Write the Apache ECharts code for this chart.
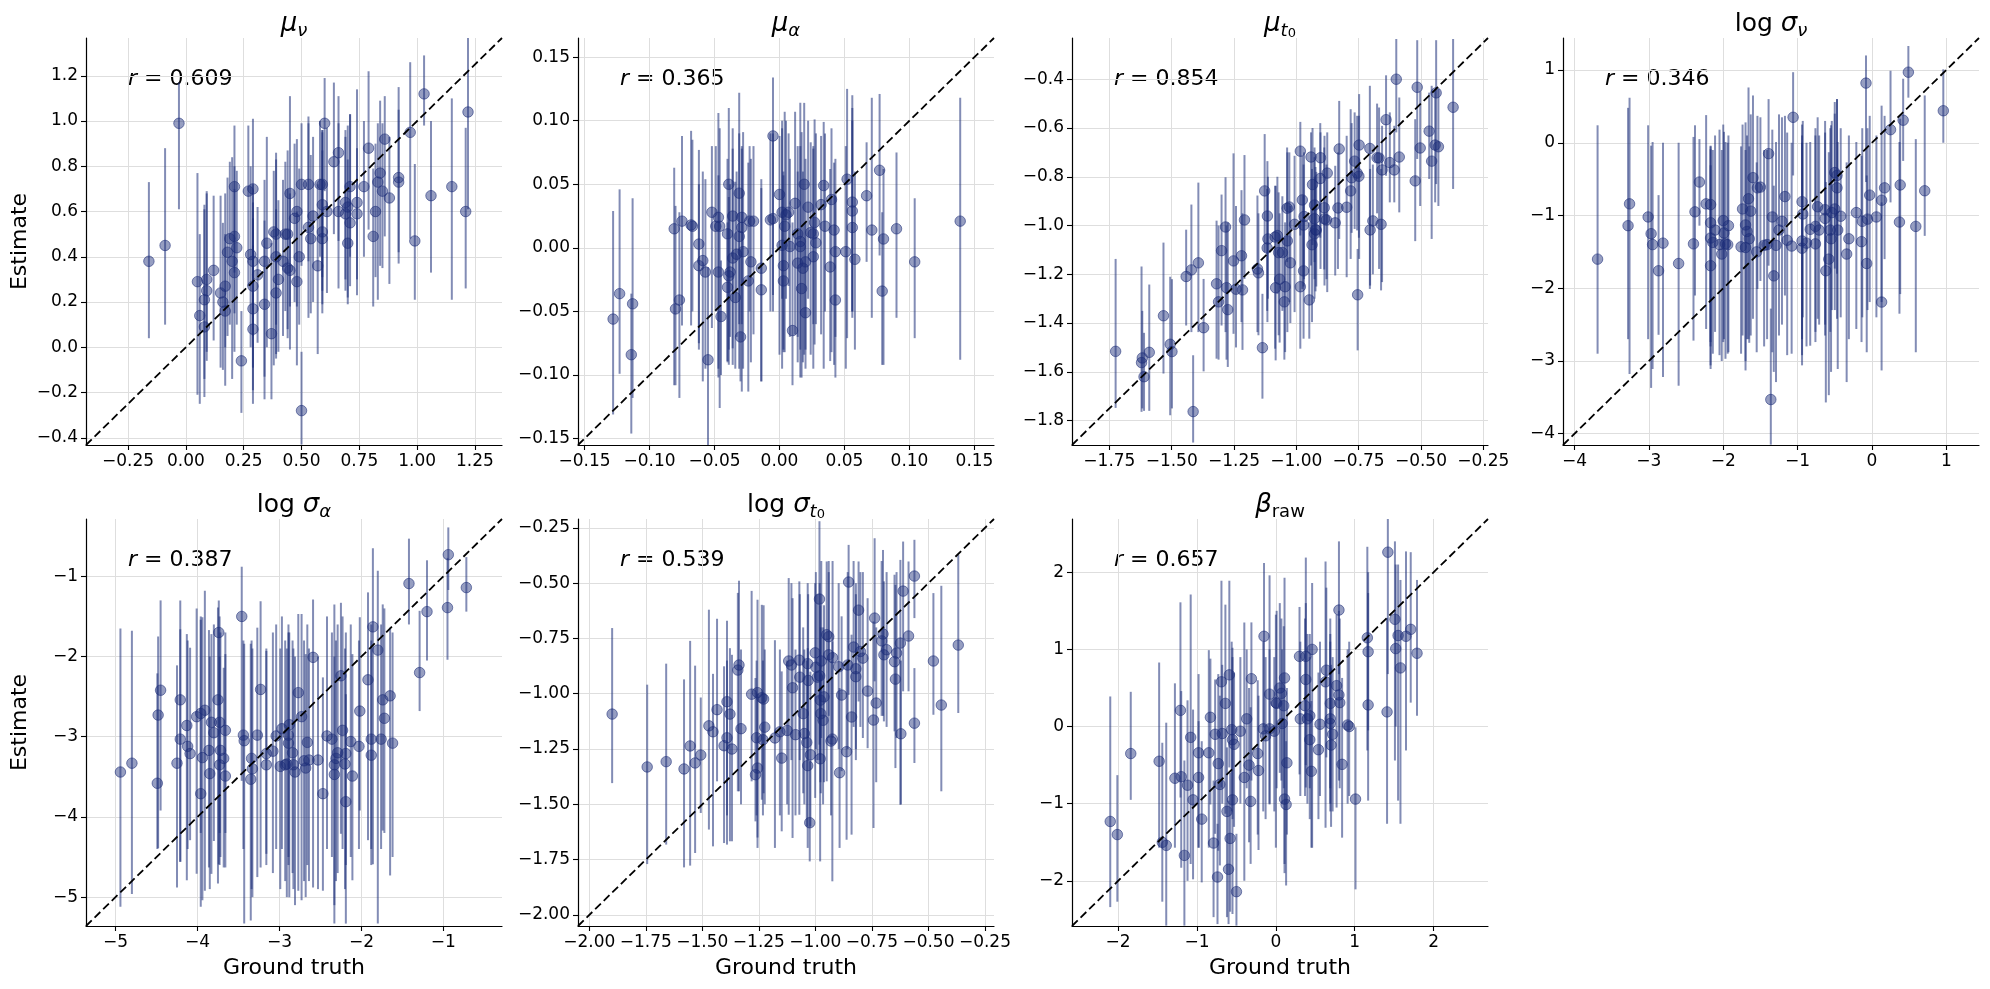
<!DOCTYPE html>
<html>
<head>
<meta charset="utf-8">
<title>Parameter recovery</title>
<script src="https://cdn.jsdelivr.net/npm/echarts@6/dist/echarts.min.js"></script>
<style>
html, body { margin: 0; padding: 0; background: #fff; }
#main { width: 1990px; height: 989px; }
</style>
</head>
<body>
<div id="main"></div>
<script>
// each point: [ground truth, estimate, lower, upper]
var MU_NU = [
  [-0.16,0.38,0.04,0.73],[-0.09,0.45,0.10,0.88],[-0.03,0.99,0.61,1.17],[0.05,0.29,-0.21,0.77],
  [0.06,0.14,-0.25,0.50],[0.08,0.09,-0.22,0.63],[0.08,0.21,-0.14,0.61],[0.09,0.30,-0.06,0.69],
  [0.09,0.25,-0.02,0.68],[0.12,0.34,0.03,0.67],[0.15,0.24,-0.09,0.67],[0.17,0.27,0.00,0.68],
  [0.16,0.20,-0.10,0.55],[0.17,0.16,-0.17,0.50],[0.18,0.42,0.05,0.75],[0.19,0.48,0.10,0.82],
  [0.20,0.38,-0.14,0.84],[0.21,0.33,-0.02,0.70],[0.21,0.71,0.33,0.98],[0.22,0.44,0.10,0.78],
  [0.21,0.49,0.15,0.80],[0.24,-0.06,-0.29,0.16],[0.27,0.69,0.27,0.98],[0.29,0.70,0.34,1.01],
  [0.28,0.41,0.00,0.80],[0.29,0.38,0.05,0.72],[0.29,0.27,-0.19,0.64],[0.29,0.17,-0.09,0.57],
  [0.29,0.08,-0.25,0.45],[0.31,0.32,0.02,0.62],[0.34,0.38,-0.13,0.74],[0.34,0.19,-0.23,0.56],
  [0.35,0.46,0.00,0.93],[0.37,0.06,-0.23,0.46],[0.38,0.51,-0.08,0.78],[0.39,0.50,0.10,0.83],
  [0.39,0.40,-0.03,0.86],[0.39,0.24,-0.05,0.61],[0.40,0.30,-0.02,0.65],[0.42,0.38,0.05,0.74],
  [0.43,0.50,0.16,0.82],[0.44,0.50,0.08,0.87],[0.45,0.68,0.18,1.11],[0.44,0.35,0.04,0.70],
  [0.45,0.34,-0.01,0.68],[0.48,0.60,0.18,0.92],[0.47,0.57,0.20,0.90],[0.48,0.29,-0.08,0.60],
  [0.49,0.40,0.10,0.79],[0.50,-0.28,-0.43,-0.02],[0.50,0.72,0.36,0.99],[0.53,0.72,0.38,1.02],
  [0.53,0.53,0.13,0.99],[0.55,0.58,0.20,0.93],[0.54,0.48,0.15,0.85],[0.57,0.36,-0.03,0.72],
  [0.58,0.72,0.40,1.00],[0.59,0.72,0.31,0.96],[0.59,0.63,0.25,0.95],[0.59,0.51,0.15,0.87],
  [0.59,0.48,0.19,0.96],[0.60,0.99,0.69,1.19],[0.61,0.60,0.24,0.97],[0.64,0.82,0.50,1.17],
  [0.66,0.86,0.47,1.11],[0.66,0.60,0.26,0.99],[0.69,0.64,0.30,0.96],[0.69,0.59,0.25,0.93],
  [0.70,0.62,0.22,0.98],[0.71,0.55,0.27,1.03],[0.70,0.46,0.19,0.83],[0.71,0.71,0.40,1.03],
  [0.74,0.64,0.23,1.14],[0.74,0.59,0.30,0.88],[0.77,0.71,0.40,1.00],[0.79,0.88,0.52,1.22],
  [0.81,0.49,0.18,0.79],[0.82,0.60,0.31,0.90],[0.83,0.73,0.21,0.99],[0.84,0.77,0.36,1.09],
  [0.85,0.69,0.35,0.99],[0.86,0.92,0.49,1.11],[0.88,0.66,0.28,0.93],[0.92,0.73,0.42,1.15],
  [0.92,0.75,0.37,1.05],[0.97,0.95,0.48,1.26],[0.99,0.47,0.21,0.81],[1.03,1.12,0.98,1.29],
  [1.06,0.67,0.33,1.00],[1.15,0.71,0.21,1.10],[1.21,0.60,0.26,0.97],[1.22,1.04,0.61,1.37]
];
var MU_ALPHA = [
  [-0.128,-0.056,-0.131,0.029],[-0.123,-0.036,-0.099,0.046],[-0.114,-0.084,-0.146,-0.036],[-0.113,-0.044,-0.118,0.039],
  [-0.081,0.015,-0.108,0.063],[-0.080,-0.048,-0.108,0.033],[-0.077,-0.041,-0.118,0.028],[-0.075,0.021,-0.061,0.088],
  [-0.068,0.018,-0.061,0.092],[-0.067,0.017,-0.050,0.085],[-0.062,0.003,-0.075,0.077],[-0.059,-0.010,-0.105,0.060],
  [-0.062,-0.014,-0.080,0.050],[-0.057,-0.019,-0.095,0.054],[-0.055,-0.088,-0.155,-0.015],[-0.052,0.028,-0.063,0.080],
  [-0.047,0.024,-0.102,0.106],[-0.049,0.017,-0.050,0.080],[-0.046,0.017,-0.126,0.094],[-0.047,-0.019,-0.095,0.057],
  [-0.045,-0.054,-0.100,-0.010],[-0.040,0.011,-0.089,0.070],[-0.039,0.050,-0.092,0.110],[-0.036,0.025,-0.079,0.094],
  [-0.036,-0.008,-0.092,0.078],[-0.039,-0.022,-0.080,0.040],[-0.040,-0.031,-0.090,0.020],[-0.038,-0.019,-0.070,0.050],
  [-0.034,-0.039,-0.095,0.052],[-0.031,0.043,-0.095,0.122],[-0.029,0.024,-0.113,0.078],[-0.029,0.016,-0.060,0.080],
  [-0.031,0.009,-0.060,0.090],[-0.033,-0.005,-0.070,0.060],[-0.028,-0.003,-0.095,0.091],[-0.030,-0.070,-0.105,-0.001],
  [-0.024,-0.026,-0.113,0.067],[-0.022,-0.011,-0.090,0.070],[-0.023,0.021,-0.050,0.080],[-0.020,0.021,-0.068,0.080],
  [-0.014,-0.016,-0.105,0.054],[-0.014,-0.033,-0.105,0.047],[-0.005,0.088,-0.037,0.134],[-0.007,0.022,-0.050,0.090],
  [-0.005,0.023,-0.050,0.090],[0.000,0.042,-0.084,0.088],[0.002,0.028,-0.040,0.100],[0.004,0.017,-0.082,0.107],
  [0.005,0.026,-0.040,0.100],[0.007,0.028,-0.030,0.090],[0.002,0.002,-0.095,0.094],[0.008,0.001,-0.070,0.070],
  [0.003,-0.014,-0.080,0.060],[0.003,-0.026,-0.082,0.057],[0.010,-0.065,-0.108,0.020],[0.012,0.035,-0.068,0.107],
  [0.014,0.011,-0.070,0.080],[0.016,0.005,-0.102,0.114],[0.016,0.001,-0.080,0.080],[0.014,-0.012,-0.090,0.060],
  [0.019,0.050,-0.084,0.114],[0.022,0.032,-0.040,0.100],[0.020,-0.011,-0.080,0.070],[0.018,-0.016,-0.090,0.060],
  [0.017,-0.032,-0.102,0.091],[0.020,-0.051,-0.095,0.020],[0.024,0.012,-0.084,0.083],[0.026,0.011,-0.060,0.080],
  [0.027,0.020,-0.076,0.101],[0.028,0.004,-0.060,0.090],[0.026,-0.007,-0.095,0.078],[0.032,0.034,-0.068,0.088],
  [0.034,0.049,-0.095,0.099],[0.035,0.017,-0.050,0.090],[0.040,0.038,-0.082,0.094],[0.042,0.014,-0.092,0.067],
  [0.043,-0.003,-0.070,0.070],[0.039,-0.015,-0.089,0.062],[0.043,-0.041,-0.102,0.041],[0.051,-0.003,-0.095,0.080],
  [0.052,0.054,-0.071,0.125],[0.056,0.036,-0.050,0.110],[0.056,0.029,-0.050,0.100],[0.056,0.016,-0.055,0.120],
  [0.058,-0.009,-0.080,0.060],[0.067,0.041,-0.011,0.083],[0.071,0.014,-0.055,0.118],[0.077,0.061,-0.006,0.121],
  [0.080,0.007,-0.092,0.062],[0.079,-0.034,-0.092,0.028],[0.090,0.015,-0.055,0.075],[0.104,-0.011,-0.071,0.039],
  [0.139,0.021,-0.088,0.118]
];
var MU_T0 = [
  [-1.725,-1.516,-1.748,-1.137],[-1.621,-1.562,-1.764,-1.168],[-1.618,-1.543,-1.75,-1.35],[-1.611,-1.620,-1.76,-1.44],
  [-1.590,-1.520,-1.76,-1.242],[-1.533,-1.370,-1.607,-1.07],[-1.506,-1.487,-1.778,-1.21],[-1.499,-1.517,-1.75,-1.22],
  [-1.442,-1.209,-1.41,-1.017],[-1.421,-1.182,-1.437,-0.914],[-1.414,-1.763,-1.89,-1.532],[-1.393,-1.153,-1.437,-0.824],
  [-1.372,-1.419,-1.598,-1.219],[-1.320,-1.239,-1.546,-0.98],[-1.312,-1.313,-1.55,-1.0],[-1.300,-1.103,-1.41,-0.873],
  [-1.284,-1.006,-1.437,-0.802],[-1.280,-1.255,-1.55,-1.0],[-1.275,-1.345,-1.58,-0.987],[-1.252,-1.145,-1.444,-0.704],
  [-1.242,-1.261,-1.5,-0.92],[-1.220,-1.124,-1.396,-0.855],[-1.216,-1.264,-1.51,-0.95],[-1.208,-0.977,-1.219,-0.711],
  [-1.156,-1.178,-1.437,-0.877],[-1.152,-1.194,-1.45,-0.95],[-1.136,-1.501,-1.71,-1.28],[-1.127,-0.858,-1.109,-0.625],
  [-1.116,-0.961,-1.396,-0.736],[-1.114,-1.055,-1.30,-0.80],[-1.117,-1.092,-1.35,-0.85],[-1.083,-1.255,-1.553,-0.837],
  [-1.085,-1.047,-1.505,-0.837],[-1.076,-1.041,-1.28,-0.80],[-1.067,-1.220,-1.48,-0.95],[-1.071,-1.111,-1.45,-0.864],
  [-1.056,-1.111,-1.35,-0.88],[-1.045,-1.251,-1.519,-0.987],[-1.048,-1.313,-1.55,-1.05],[-1.036,-1.063,-1.437,-0.70],
  [-1.037,-0.929,-1.15,-0.68],[-1.028,-0.924,-1.314,-0.70],[-1.024,-1.153,-1.40,-0.92],[-1.007,-0.995,-1.355,-0.714],
  [-0.984,-1.251,-1.505,-0.987],[-0.984,-0.695,-1.041,-0.575],[-0.976,-0.895,-1.26,-0.714],[-0.971,-0.998,-1.25,-0.75],
  [-0.969,-0.963,-1.22,-0.70],[-0.971,-1.186,-1.464,-0.877],[-0.948,-1.305,-1.464,-0.987],[-0.941,-0.719,-1.164,-0.618],
  [-0.935,-0.832,-1.08,-0.60],[-0.937,-1.079,-1.396,-0.768],[-0.927,-0.916,-1.15,-0.68],[-0.927,-0.972,-1.22,-0.72],
  [-0.923,-1.017,-1.27,-0.76],[-0.927,-1.034,-1.30,-0.80],[-0.920,-1.019,-1.25,-0.78],[-0.903,-0.722,-1.178,-0.618],
  [-0.904,-0.807,-1.05,-0.58],[-0.888,-0.927,-1.18,-0.68],[-0.887,-0.973,-1.246,-0.632],[-0.876,-0.785,-1.273,-0.618],
  [-0.879,-0.977,-1.22,-0.75],[-0.844,-0.989,-1.205,-0.755],[-0.833,-0.928,-1.178,-0.70],[-0.828,-0.686,-1.055,-0.489],
  [-0.798,-0.925,-1.212,-0.632],[-0.782,-0.858,-1.137,-0.523],[-0.778,-0.804,-1.03,-0.58],[-0.766,-0.736,-1.014,-0.536],
  [-0.754,-1.284,-1.512,-1.096],[-0.756,-0.785,-1.02,-0.55],[-0.748,-0.670,-1.137,-0.461],[-0.749,-0.798,-1.05,-0.55],
  [-0.705,-0.684,-1.26,-0.427],[-0.704,-1.018,-1.246,-0.768],[-0.693,-0.981,-1.20,-0.75],[-0.676,-0.722,-0.95,-0.50],
  [-0.668,-0.723,-1.178,-0.516],[-0.656,-0.772,-1.232,-0.591],[-0.660,-0.995,-1.266,-0.768],[-0.640,-0.566,-0.796,-0.384],
  [-0.625,-0.742,-0.905,-0.536],[-0.607,-0.772,-0.905,-0.591],[-0.599,-0.400,-0.618,-0.235],[-0.587,-0.719,-0.946,-0.475],
  [-0.523,-0.817,-1.064,-0.564],[-0.515,-0.433,-0.727,-0.24],[-0.503,-0.682,-0.92,-0.45],[-0.467,-0.613,-0.809,-0.455],
  [-0.457,-0.736,-1.055,-0.427],[-0.439,-0.456,-0.83,-0.24],[-0.443,-0.670,-0.905,-0.441],[-0.430,-0.677,-0.92,-0.44],
  [-0.371,-0.515,-0.85,-0.235]
];
var LOG_SIGMA_NU = [
  [-3.69,-1.60,-2.90,0.24],[-3.26,-0.84,-3.18,0.62],[-3.28,-1.14,-2.70,0.48],[-3.01,-1.02,-2.70,0.24],
  [-2.97,-1.25,-3.37,-0.04],[-2.95,-1.40,-3.11,0.01],[-2.87,-1.76,-2.64,-0.72],[-2.81,-1.38,-3.22,0.00],
  [-2.60,-1.66,-3.34,0.00],[-2.40,-1.39,-2.72,0.08],[-2.38,-0.95,-2.10,0.24],[-2.32,-0.54,-1.14,0.05],
  [-2.23,-0.84,-2.56,0.38],[-2.17,-0.85,-2.74,-0.04],[-2.17,-1.10,-3.11,-0.09],[-2.11,-1.20,-2.60,0.10],
  [-2.17,-1.31,-2.80,-0.05],[-2.14,-1.37,-2.90,-0.10],[-2.17,-1.69,-3.06,-0.31],[-2.05,-1.40,-2.92,0.18],
  [-2.00,-1.07,-2.74,0.25],[-1.99,-1.24,-2.70,0.15],[-2.02,-1.53,-3.00,-0.10],[-1.97,-1.39,-2.97,0.01],
  [-1.93,-1.14,-2.88,0.10],[-1.94,-1.40,-2.90,0.00],[-1.74,-0.91,-2.65,0.25],[-1.76,-1.43,-2.90,-0.05],
  [-1.70,-1.44,-3.00,-0.10],[-1.70,-1.13,-3.13,0.28],[-1.68,-1.22,-2.70,0.10],[-1.66,-0.77,-2.70,0.76],
  [-1.65,-1.32,-2.75,-0.05],[-1.63,-0.94,-2.65,0.39],[-1.60,-0.48,-2.42,0.65],[-1.54,-0.62,-2.01,0.37],
  [-1.50,-0.61,-1.90,0.35],[-1.55,-1.50,-2.88,-0.27],[-1.45,-1.41,-2.80,-0.10],[-1.39,-0.15,-1.69,0.60],
  [-1.36,-3.53,-4.15,-2.28],[-1.34,-1.02,-2.88,0.18],[-1.41,-1.40,-2.70,-0.10],[-1.29,-1.41,-3.29,0.01],
  [-1.32,-1.83,-3.15,-0.59],[-1.25,-1.20,-2.65,0.39],[-1.21,-1.08,-2.50,0.35],[-1.17,-0.74,-2.10,0.37],
  [-1.14,-1.34,-2.92,0.14],[-1.06,0.35,-0.45,0.97],[-1.08,-1.42,-2.90,0.00],[-0.94,-0.81,-2.92,0.25],
  [-0.93,-0.98,-2.40,0.30],[-0.94,-1.35,-2.70,0.00],[-0.94,-1.45,-3.06,0.10],[-0.88,-1.38,-2.80,0.00],
  [-0.83,-1.19,-2.79,0.01],[-0.76,-1.15,-2.60,0.20],[-0.76,-1.39,-2.74,0.10],[-0.73,-0.88,-2.42,0.35],
  [-0.71,-1.20,-2.50,0.10],[-0.63,-0.92,-2.65,0.14],[-0.63,-1.04,-2.50,0.30],[-0.62,-1.76,-3.57,-0.54],
  [-0.58,-1.60,-3.47,-0.13],[-0.56,-1.20,-2.60,0.20],[-0.55,-1.32,-3.15,0.24],[-0.54,-0.96,-2.30,0.30],
  [-0.50,-0.41,-1.73,0.56],[-0.47,-0.45,-1.80,0.60],[-0.47,-0.62,-2.42,0.60],[-0.50,-0.91,-2.30,0.40],
  [-0.46,-1.20,-3.11,0.01],[-0.42,-1.01,-2.40,0.20],[-0.34,-1.53,-3.29,-0.27],[-0.31,-1.32,-2.70,0.10],
  [-0.21,-0.96,-2.56,0.01],[-0.14,-1.36,-2.74,-0.18],[-0.13,-1.08,-2.40,0.20],[-0.07,-1.66,-2.88,-0.45],
  [-0.06,-1.05,-2.30,0.20],[-0.08,0.82,-0.54,1.20],[-0.03,-0.72,-2.19,0.37],[0.06,-1.02,-2.40,0.10],
  [0.13,-0.79,-2.19,0.51],[0.13,-2.19,-3.13,-0.82],[0.17,-0.62,-1.60,0.37],[0.25,0.18,-0.82,0.99],
  [0.37,-1.09,-2.35,0.01],[0.38,-0.58,-2.08,0.33],[0.42,0.31,-0.25,0.88],[0.49,0.97,0.62,1.33],
  [0.59,-1.15,-2.88,0.05],[0.71,-0.66,-1.28,0.65],[0.96,0.44,0.00,1.01]
];
var LOG_SIGMA_ALPHA = [
  [-4.94,-3.44,-5.12,-1.65],[-4.80,-3.33,-4.96,-1.68],[-4.49,-3.58,-4.40,-2.21],[-4.48,-2.73,-4.39,-1.75],
  [-4.45,-2.42,-3.92,-1.30],[-4.25,-3.33,-4.88,-2.11],[-4.21,-2.54,-4.56,-1.30],[-4.21,-3.03,-4.56,-1.66],
  [-4.13,-2.86,-4.79,-1.72],[-4.12,-3.12,-4.40,-1.80],[-4.09,-3.21,-4.29,-1.89],[-4.01,-2.75,-4.71,-1.40],
  [-3.96,-3.71,-5.12,-1.54],[-3.96,-2.71,-4.20,-1.50],[-3.91,-2.67,-4.92,-1.18],[-3.94,-3.26,-5.04,-1.51],
  [-3.86,-3.17,-4.63,-1.67],[-3.85,-3.46,-4.90,-2.00],[-3.83,-2.82,-4.71,-1.72],[-3.80,-2.95,-4.30,-1.60],
  [-3.75,-2.54,-4.83,-1.39],[-3.74,-1.70,-4.59,-1.30],[-3.73,-2.82,-4.20,-1.50],[-3.72,-3.17,-4.50,-1.70],
  [-3.73,-3.35,-4.60,-2.00],[-3.68,-3.27,-4.63,-2.14],[-3.66,-2.92,-4.20,-1.70],[-3.66,-3.49,-4.63,-1.97],
  [-3.46,-1.50,-3.55,-0.88],[-3.44,-2.98,-4.40,-1.80],[-3.43,-3.05,-5.33,-1.84],[-3.34,-3.27,-4.90,-1.80],
  [-3.33,-3.40,-5.00,-1.90],[-3.35,-3.53,-5.29,-1.84],[-3.27,-2.98,-4.75,-1.64],[-3.23,-2.41,-4.63,-1.31],
  [-3.16,-3.21,-4.60,-1.90],[-3.16,-3.35,-4.46,-1.93],[-3.08,-3.18,-4.70,-1.70],[-3.04,-2.99,-4.40,-1.60],
  [-2.99,-3.37,-4.90,-1.90],[-2.97,-2.90,-4.40,-1.50],[-2.93,-3.35,-4.80,-1.80],[-2.91,-3.34,-5.00,-1.90],
  [-2.89,-2.98,-4.50,-1.60],[-2.88,-2.85,-5.00,-1.70],[-2.89,-3.08,-4.60,-1.70],[-2.84,-3.20,-4.70,-1.80],
  [-2.83,-3.35,-4.90,-1.90],[-2.81,-3.44,-5.10,-2.00],[-2.77,-2.45,-4.92,-1.47],[-2.73,-2.75,-5.04,-1.47],
  [-2.70,-3.30,-4.80,-1.80],[-2.68,-3.39,-5.00,-1.97],[-2.66,-3.07,-4.60,-1.60],[-2.64,-3.29,-4.80,-1.90],
  [-2.59,-2.01,-4.88,-1.29],[-2.53,-3.29,-4.90,-2.00],[-2.47,-3.71,-4.92,-2.26],[-2.42,-2.99,-4.40,-1.50],
  [-2.36,-3.03,-4.50,-1.70],[-2.33,-3.35,-5.33,-1.35],[-2.33,-3.47,-5.10,-2.00],[-2.31,-3.27,-4.80,-1.80],
  [-2.29,-3.20,-4.70,-1.60],[-2.25,-2.24,-4.21,-1.33],[-2.23,-2.92,-4.40,-1.50],[-2.20,-3.34,-4.90,-1.90],
  [-2.19,-3.21,-4.60,-1.70],[-2.19,-3.81,-5.33,-2.47],[-2.13,-3.06,-4.50,-1.60],[-2.11,-3.49,-4.79,-1.97],
  [-2.03,-3.12,-4.40,-1.80],[-2.02,-2.68,-3.92,-1.51],[-1.92,-2.29,-4.29,-1.20],[-1.88,-3.03,-4.40,-1.60],
  [-1.88,-3.23,-4.60,-1.80],[-1.86,-1.63,-4.59,-0.65],[-1.80,-1.92,-5.33,-0.93],[-1.76,-3.03,-4.40,-1.60],
  [-1.74,-2.54,-4.17,-1.35],[-1.72,-2.77,-4.20,-1.40],[-1.65,-2.49,-4.73,-1.64],[-1.62,-3.08,-4.50,-1.70],
  [-1.42,-1.09,-1.60,-0.53],[-1.29,-2.20,-2.68,-1.43],[-1.20,-1.44,-2.05,-0.80],[-0.95,-1.39,-2.04,-0.77],
  [-0.94,-0.73,-1.17,-0.39],[-0.72,-1.14,-1.44,-0.76]
];
var LOG_SIGMA_T0 = [
  [-1.899,-1.092,-1.404,-0.703],[-1.744,-1.331,-1.770,-0.959],[-1.660,-1.307,-1.682,-0.864],[-1.581,-1.340,-1.785,-0.935],
  [-1.554,-1.236,-1.777,-0.761],[-1.532,-1.313,-1.720,-0.873],[-1.507,-1.277,-1.539,-1.017],[-1.471,-1.145,-1.614,-0.620],
  [-1.453,-1.172,-1.690,-0.910],[-1.435,-1.072,-1.396,-0.661],[-1.404,-1.235,-1.675,-0.876],[-1.391,-1.036,-1.682,-0.670],
  [-1.391,-1.199,-1.55,-0.85],[-1.378,-1.092,-1.667,-0.794],[-1.369,-1.250,-1.667,-0.824],[-1.343,-0.893,-1.441,-0.544],
  [-1.338,-0.870,-1.441,-0.489],[-1.329,-1.158,-1.50,-0.80],[-1.282,-1.002,-1.396,-0.535],[-1.256,-0.995,-1.697,-0.575],
  [-1.260,-1.199,-1.55,-0.85],[-1.256,-1.336,-1.65,-1.00],[-1.265,-1.366,-1.577,-0.929],[-1.237,-1.018,-1.479,-0.598],
  [-1.229,-1.024,-1.45,-0.60],[-1.224,-1.151,-1.50,-0.80],[-1.232,-1.208,-1.55,-0.85],[-1.179,-1.200,-1.697,-0.758],
  [-1.157,-1.172,-1.55,-0.80],[-1.125,-1.166,-1.50,-0.85],[-1.149,-1.291,-1.622,-0.899],[-1.118,-0.852,-1.547,-0.477],
  [-1.106,-0.870,-1.30,-0.50],[-1.101,-0.973,-1.652,-0.568],[-1.088,-1.185,-1.55,-0.80],[-1.071,-0.848,-1.547,-0.492],
  [-1.069,-0.925,-1.30,-0.55],[-1.054,-1.090,-1.45,-0.70],[-1.049,-1.180,-1.50,-0.80],[-1.038,-1.220,-1.60,-0.85],
  [-1.034,-1.325,-1.697,-0.794],[-1.022,-1.276,-1.60,-0.90],[-1.025,-1.583,-1.758,-1.306],[-1.034,-0.864,-1.20,-0.50],
  [-1.032,-0.940,-1.30,-0.55],[-1.001,-0.815,-1.471,-0.500],[-0.998,-0.880,-1.25,-0.45],[-0.982,-0.572,-1.230,-0.220],
  [-0.991,-0.925,-1.30,-0.55],[-0.981,-0.919,-1.30,-0.50],[-0.978,-1.029,-1.40,-0.60],[-0.976,-1.090,-1.45,-0.70],
  [-0.974,-0.852,-1.20,-0.40],[-0.979,-1.294,-1.758,-0.914],[-0.966,-1.120,-1.50,-0.70],[-0.962,-1.014,-1.40,-0.60],
  [-0.950,-0.733,-1.396,-0.402],[-0.941,-0.742,-1.10,-0.40],[-0.941,-0.824,-1.20,-0.45],[-0.924,-0.837,-1.20,-0.40],
  [-0.931,-1.214,-1.55,-0.85],[-0.925,-1.205,-1.848,-0.764],[-0.897,-0.878,-1.25,-0.50],[-0.893,-1.357,-1.697,-0.974],
  [-0.884,-1.006,-1.35,-0.65],[-0.862,-1.262,-1.660,-0.854],[-0.857,-0.870,-1.25,-0.45],[-0.853,-0.495,-1.005,-0.327],
  [-0.831,-0.789,-1.15,-0.40],[-0.840,-1.105,-1.637,-0.733],[-0.821,-0.887,-1.25,-0.50],[-0.821,-0.923,-1.30,-0.55],
  [-0.809,-0.622,-1.035,-0.402],[-0.801,-0.809,-1.15,-0.45],[-0.790,-0.839,-1.20,-0.45],[-0.769,-0.988,-1.246,-0.568],
  [-0.743,-1.119,-1.607,-0.673],[-0.738,-0.658,-0.944,-0.297],[-0.731,-1.042,-1.40,-0.70],[-0.707,-0.761,-1.10,-0.40],
  [-0.701,-0.730,-1.10,-0.35],[-0.697,-0.824,-1.125,-0.492],[-0.685,-0.801,-1.15,-0.45],[-0.650,-0.855,-1.170,-0.462],
  [-0.646,-0.934,-1.336,-0.508],[-0.641,-0.816,-1.20,-0.45],[-0.624,-0.771,-1.502,-0.395],[-0.622,-1.181,-1.50,-0.85],
  [-0.612,-0.536,-0.989,-0.312],[-0.588,-0.739,-0.989,-0.402],[-0.562,-0.468,-0.658,-0.304],[-0.562,-1.133,-1.313,-0.884],
  [-0.478,-0.852,-1.095,-0.545],[-0.443,-1.051,-1.441,-0.512],[-0.368,-0.780,-1.087,-0.372]
];
var BETA_RAW = [
  [-2.10,-1.23,-2.34,0.39],[-2.01,-1.40,-2.27,-0.63],[-1.84,-0.35,-0.95,0.45],[-1.48,-0.45,-1.57,0.83],
  [-1.44,-1.50,-2.27,-0.21],[-1.39,-1.54,-2.58,0.05],[-1.28,-0.67,-1.57,0.56],[-1.21,0.21,-0.92,1.61],
  [-1.20,-0.65,-1.83,0.46],[-1.16,-1.67,-2.58,-0.44],[-1.12,-0.76,-2.00,0.34],[-1.08,-0.14,-1.78,1.71],
  [-1.05,-0.95,-1.98,0.22],[-0.98,-0.34,-1.57,0.07],[-0.98,-0.66,-1.57,0.68],[-0.94,-1.20,-2.02,-0.19],
  [-0.85,-0.34,-1.57,0.99],[-0.83,0.12,-1.01,0.88],[-0.79,-1.51,-2.47,-0.70],[-0.77,-0.10,-1.39,0.61],
  [-0.74,-1.95,-2.56,-1.26],[-0.73,-0.48,-1.61,0.68],[-0.71,-0.75,-1.80,0.40],[-0.69,0.58,-0.79,1.89],
  [-0.68,-0.09,-1.00,0.80],[-0.64,0.30,-1.13,1.58],[-0.60,-1.85,-2.56,-0.96],[-0.62,-1.10,-2.47,-0.27],
  [-0.58,-1.45,-2.40,-0.60],[-0.59,0.67,-0.53,1.89],[-0.56,-0.04,-1.10,1.10],[-0.55,-0.17,-1.20,0.90],
  [-0.53,-0.23,-1.30,0.70],[-0.55,-0.95,-2.43,1.02],[-0.50,-2.14,-2.58,-1.39],[-0.45,-0.06,-1.00,0.90],
  [-0.40,-0.66,-2.00,1.35],[-0.37,0.10,-0.80,1.00],[-0.34,-0.50,-1.50,0.50],[-0.31,0.62,-0.70,1.35],
  [-0.32,-0.97,-1.78,0.25],[-0.23,-0.35,-1.40,0.60],[-0.22,-0.57,-1.60,0.40],[-0.15,1.17,-0.01,2.12],
  [-0.16,-0.03,-1.10,1.10],[-0.13,-0.12,-1.20,0.90],[-0.08,0.42,-1.01,1.96],[-0.08,-0.03,-1.00,1.00],
  [-0.02,-0.06,-1.10,0.90],[0.00,0.31,-1.57,1.45],[0.01,0.30,-0.80,1.50],[0.05,0.50,-0.60,1.60],
  [0.07,0.43,-0.70,1.40],[0.11,0.63,-1.78,1.93],[0.10,0.27,-0.80,1.30],[0.08,0.04,-1.00,1.00],
  [0.11,-0.94,-1.90,0.10],[0.13,-1.01,-2.06,-0.19],[0.14,-0.47,-1.40,0.50],[0.30,0.91,-0.62,1.55],
  [0.31,0.10,-0.90,1.10],[0.38,0.91,-0.79,2.19],[0.38,0.61,-0.50,1.60],[0.37,0.27,-0.90,1.40],
  [0.40,0.10,-1.00,1.20],[0.43,0.14,-0.80,1.20],[0.43,-0.17,-1.20,0.90],[0.46,1.00,-1.57,1.86],
  [0.45,-0.58,-1.57,0.33],[0.54,-0.30,-1.20,0.70],[0.56,0.03,-0.90,1.10],[0.63,0.58,-1.31,2.14],
  [0.64,0.73,-0.40,1.80],[0.69,0.30,-0.80,1.40],[0.69,0.10,-1.00,1.20],[0.69,0.04,-1.10,1.10],
  [0.70,-0.24,-1.30,0.80],[0.72,-0.10,-1.10,0.90],[0.77,0.53,-1.05,1.45],[0.80,0.41,-0.70,1.50],
  [0.81,0.31,-0.80,1.40],[0.80,1.51,0.68,2.40],[0.84,-0.49,-1.44,0.63],[0.91,0.02,-1.00,1.00],
  [0.93,0.00,-0.90,1.10],[1.01,-0.94,-2.11,-0.01],[1.16,1.15,-0.31,2.33],[1.17,0.97,-0.05,2.00],
  [1.17,0.28,-0.96,1.73],[1.41,0.19,-1.26,1.41],[1.42,2.26,0.68,2.69],[1.51,1.39,-0.44,2.40],
  [1.52,1.01,0.00,2.10],[1.55,1.18,-0.96,2.10],[1.58,0.76,-1.26,1.90],[1.65,1.17,-0.31,2.27],
  [1.71,1.26,0.31,2.26],[1.79,0.95,0.14,1.90]
];

var PANEL_DATA = [MU_NU, MU_ALPHA, MU_T0, LOG_SIGMA_NU, LOG_SIGMA_ALPHA, LOG_SIGMA_T0, BETA_RAW];
// shared axis limits (x and y) per panel
var LIMS = [[-0.432, 1.367], [-0.155, 0.165], [-1.90, -0.231], [-4.155, 1.44],
            [-5.36, -0.285], [-2.05, -0.21], [-2.585, 2.69]];
var X_TICKS = [
  [-0.25, 0, 0.25, 0.5, 0.75, 1, 1.25],
  [-0.15, -0.1, -0.05, 0, 0.05, 0.1, 0.15],
  [-1.75, -1.5, -1.25, -1, -0.75, -0.5, -0.25],
  [-4, -3, -2, -1, 0, 1],
  [-5, -4, -3, -2, -1],
  [-2, -1.75, -1.5, -1.25, -1, -0.75, -0.5, -0.25],
  [-2, -1, 0, 1, 2]
];
var Y_TICKS = [
  [-0.4, -0.2, 0, 0.2, 0.4, 0.6, 0.8, 1.0, 1.2],
  [-0.15, -0.1, -0.05, 0, 0.05, 0.1, 0.15],
  [-1.8, -1.6, -1.4, -1.2, -1, -0.8, -0.6, -0.4],
  [-4, -3, -2, -1, 0, 1],
  [-5, -4, -3, -2, -1],
  [-2, -1.75, -1.5, -1.25, -1, -0.75, -0.5, -0.25],
  [-2, -1, 0, 1, 2]
];
var X_DEC = [2, 2, 2, 0, 0, 2, 0];
var Y_DEC = [1, 2, 1, 0, 0, 2, 0];
var R_VALUES = ['0.609', '0.365', '0.854', '0.346', '0.387', '0.539', '0.657'];
var TITLES = [
  '{i|μ}{s|ν}',
  '{i|μ}{s|α}',
  '{i|μ}{s|t}{ss|0}',
  '{n|log }{i|σ}{s|ν}',
  '{n|log }{i|σ}{s|α}',
  '{n|log }{i|σ}{s|t}{ss|0}',
  '{i|β}{sr|raw}'
];

var FONT = 'DejaVu Sans';
var MARK_COLOR = 'rgba(28,45,120,0.58)';
var MARK_EDGE = 'rgba(28,45,120,0.7)';
var BAR_COLOR = 'rgba(28,45,120,0.55)';
var COL_LEFT = [86, 578, 1072, 1563];
var ROW_TOP = [38, 519];
var GW = 416, GH = 407;

function fmt(dec) {
  return function (v) {
    var s = Math.abs(v).toFixed(dec);
    return (v < -1e-9 ? '\u2212' : '') + s;
  };
}

var TITLE_RICH = {
  i: { fontFamily: FONT, fontSize: 26, fontStyle: 'italic', lineHeight: 32 },
  n: { fontFamily: FONT, fontSize: 25, lineHeight: 32 },
  s: { fontFamily: FONT, fontSize: 18, fontStyle: 'italic', lineHeight: 18, verticalAlign: 'bottom' },
  sr: { fontFamily: FONT, fontSize: 18, lineHeight: 18, verticalAlign: 'bottom' },
  ss: { fontFamily: FONT, fontSize: 13, lineHeight: 10, verticalAlign: 'bottom' }
};

var grids = [], xAxes = [], yAxes = [], series = [], graphics = [];

PANEL_DATA.forEach(function (pts, i) {
  var row = i < 4 ? 0 : 1;
  var col = i < 4 ? i : i - 4;
  var left = COL_LEFT[col], top = ROW_TOP[row];
  var lim = LIMS[i];
  grids.push({ left: left, top: top, width: GW, height: GH, containLabel: false });

  var axisCommon = function (ticks, dec) {
    return {
      gridIndex: i, type: 'value', min: lim[0], max: lim[1],
      axisLine: { show: true, onZero: false, lineStyle: { color: '#000', width: 1.2 } },
      axisTick: { show: true, length: 5, inside: false, customValues: ticks,
                  lineStyle: { color: '#000', width: 1.1 } },
      axisLabel: { customValues: ticks, formatter: fmt(dec), fontFamily: FONT,
                   fontSize: 17, color: '#000', margin: 8 },
      splitLine: { show: true, lineStyle: { color: '#dedede', width: 1 } }
    };
  };
  xAxes.push(axisCommon(X_TICKS[i], X_DEC[i]));
  yAxes.push(axisCommon(Y_TICKS[i], Y_DEC[i]));

  series.push({
    type: 'custom', xAxisIndex: i, yAxisIndex: i, silent: true, clip: true, z: 2,
    data: pts.map(function (p) { return [p[0], p[2], p[3]]; }),
    encode: { x: 0, y: [1, 2] },
    renderItem: function (params, api) {
      var a = api.coord([api.value(0), api.value(1)]);
      var b = api.coord([api.value(0), api.value(2)]);
      return { type: 'line', shape: { x1: a[0], y1: a[1], x2: b[0], y2: b[1] },
               style: { stroke: BAR_COLOR, lineWidth: 2 } };
    }
  });
  series.push({
    type: 'scatter', xAxisIndex: i, yAxisIndex: i, silent: true, z: 3,
    symbolSize: 10.5,
    itemStyle: { color: MARK_COLOR, borderColor: MARK_EDGE, borderWidth: 1 },
    data: pts.map(function (p) { return [p[0], p[1]]; })
  });
  series.push({
    type: 'line', xAxisIndex: i, yAxisIndex: i, silent: true, z: 5,
    symbol: 'none',
    lineStyle: { color: '#000', width: 1.8, type: [8, 4] },
    data: [[lim[0], lim[0]], [lim[1], lim[1]]]
  });

  // panel title
  graphics.push({
    type: 'text', x: left + GW / 2, y: top - 14, silent: true,
    style: { text: TITLES[i], align: 'center', verticalAlign: 'middle', fill: '#000',
             fontFamily: FONT, fontSize: 25, rich: TITLE_RICH }
  });
  // correlation annotation
  graphics.push({
    type: 'text', x: left + 42, y: top + 41, silent: true,
    style: { text: '{r|r}{n| = ' + R_VALUES[i] + '}', align: 'left', verticalAlign: 'middle',
             fill: '#000', fontFamily: FONT, fontSize: 22,
             rich: { r: { fontFamily: FONT, fontSize: 22, fontStyle: 'italic' },
                     n: { fontFamily: FONT, fontSize: 22 } } }
  });
  if (col === 0) {
    graphics.push({
      type: 'text', x: 20, y: top + GH / 2, rotation: Math.PI / 2, silent: true,
      style: { text: 'Estimate', align: 'center', verticalAlign: 'middle', fill: '#000',
               fontFamily: FONT, fontSize: 22 }
    });
  }
  if (row === 1) {
    graphics.push({
      type: 'text', x: left + GW / 2, y: 968, silent: true,
      style: { text: 'Ground truth', align: 'center', verticalAlign: 'middle', fill: '#000',
               fontFamily: FONT, fontSize: 22 }
    });
  }
});

var myChart = echarts.init(document.getElementById('main'), null, { renderer: 'canvas' });
myChart.setOption({
  backgroundColor: '#fff',
  animation: false,
  grid: grids,
  xAxis: xAxes,
  yAxis: yAxes,
  series: series,
  graphic: graphics
});
</script>
</body>
</html>
